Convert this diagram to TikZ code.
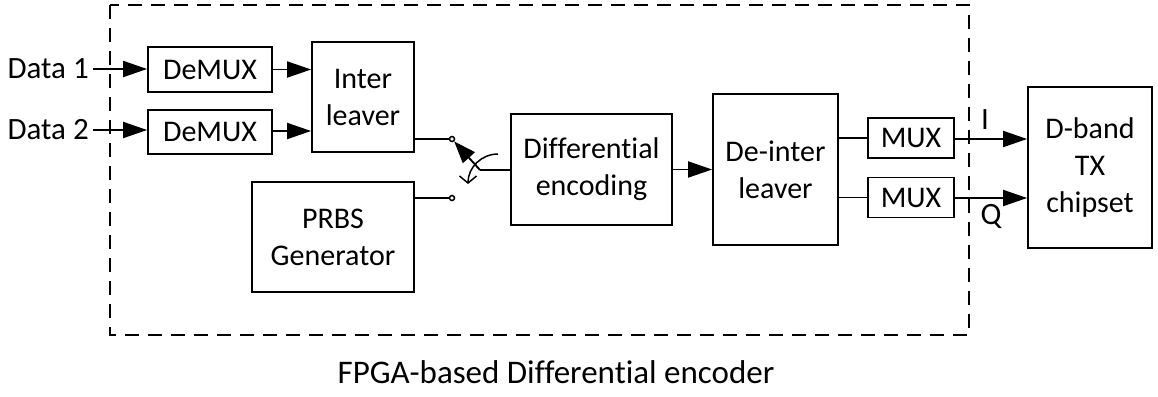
\documentclass[tikz,border=0pt]{standalone}
\usepackage{fontspec}
\setmainfont{Carlito}[Ligatures=NoCommon]
\usetikzlibrary{arrows.meta}

\tikzset{
  blk/.style={draw, line width=1.8pt, align=center, inner sep=0pt,
              font=\fontsize{30}{37}\selectfont},
  conn/.style={line width=1.9pt},
  arr/.style={conn, -{Triangle[length=24pt,width=16pt]}},
  contact/.style={draw, circle, line width=1.5pt, minimum size=5pt, inner sep=0pt, fill=white},
  lbl/.style={inner sep=0pt, font=\fontsize{31}{37}\selectfont},
}

\begin{document}
\begin{tikzpicture}[x=1pt, y=-1pt]
  \useasboundingbox (0,0) rectangle (1158,396);

  % FPGA boundary
  \draw[line width=1.6pt, dash pattern=on 14pt off 9pt] (110,5) rectangle (969,335);
  \node[lbl, font=\fontsize{33}{37}\selectfont] (cap) at (556,372) {FPGA-based Differential encoder};

  % processing blocks
  \node[blk, minimum width=124pt, minimum height=45pt] (dm1) at (210,69.5) {DeMUX};
  \node[blk, minimum width=124pt, minimum height=44pt] (dm2) at (210,132) {DeMUX};
  \node[blk, minimum width=102pt, minimum height=110pt] (il) at (363,97) {Inter\\leaver};
  \node[blk, minimum width=162pt, minimum height=110pt] (prbs) at (333,237) {PRBS\\Generator};
  \node[blk, minimum width=161pt, minimum height=111pt] (diff) at (591.5,169.5) {Differential\\encoding};
  \node[blk, minimum width=125pt, minimum height=151pt] (deil) at (775.5,169.5) {De-inter\\leaver};
  \node[blk, minimum width=86pt, minimum height=40pt] (mux1) at (911,138) {MUX};
  \node[blk, minimum width=86pt, minimum height=40pt] (mux2) at (911,197.5) {MUX};
  \node[blk, minimum width=124pt, minimum height=161pt] (tx) at (1090,167.5) {D-band\\TX\\chipset};

  % inputs
  \node[lbl, anchor=east] (d1) at (89,69) {Data 1};
  \node[lbl, anchor=east] (d2) at (89,130) {Data 2};
  \coordinate (d1e) at (93,69);
  \coordinate (d2e) at (93,130);
  \draw[arr] (d1e) -- (dm1.west |- d1e);
  \draw[arr] (d2e) -- (dm2.west |- d2e);
  \draw[arr] (dm1.east) -- (il.west |- dm1.east);
  \draw[arr] (dm2.east |- 0,131) -- (il.west |- 0,131);

  % selector switch
  \node[contact] (s1) at (452,139) {};
  \node[contact] (s2) at (452,198) {};
  \coordinate (pivot) at (480,170);
  \draw[conn] (il.east |- s1) -- (s1);
  \draw[conn] (prbs.east |- s2) -- (s2);
  \draw[conn] (diff.west |- pivot) -- (pivot);
  \draw[conn, -{Triangle[length=22pt,width=16pt]}] (pivot) -- (s1);
  \draw[line width=1.5pt, -{Straight Barb[length=7pt,width=17pt]}]
    (498,154) arc[start angle=90, end angle=180, radius=30pt];

  % encoder chain
  \draw[arr] (diff.east) -- (deil.west |- diff.east);
  \draw[conn] (deil.east |- mux1) -- (mux1.west);
  \draw[conn] (deil.east |- mux2) -- (mux2.west);
  \coordinate (iy) at (0,139);
  \coordinate (qy) at (0,198);
  \draw[arr] (mux1.east |- iy) -- (tx.west |- iy);
  \draw[arr] (mux2.east |- qy) -- (tx.west |- qy);
  \node[lbl] (ilbl) at (985,120) {I};
  \node[lbl] (qlbl) at (991,216) {Q};
\end{tikzpicture}
\end{document}
